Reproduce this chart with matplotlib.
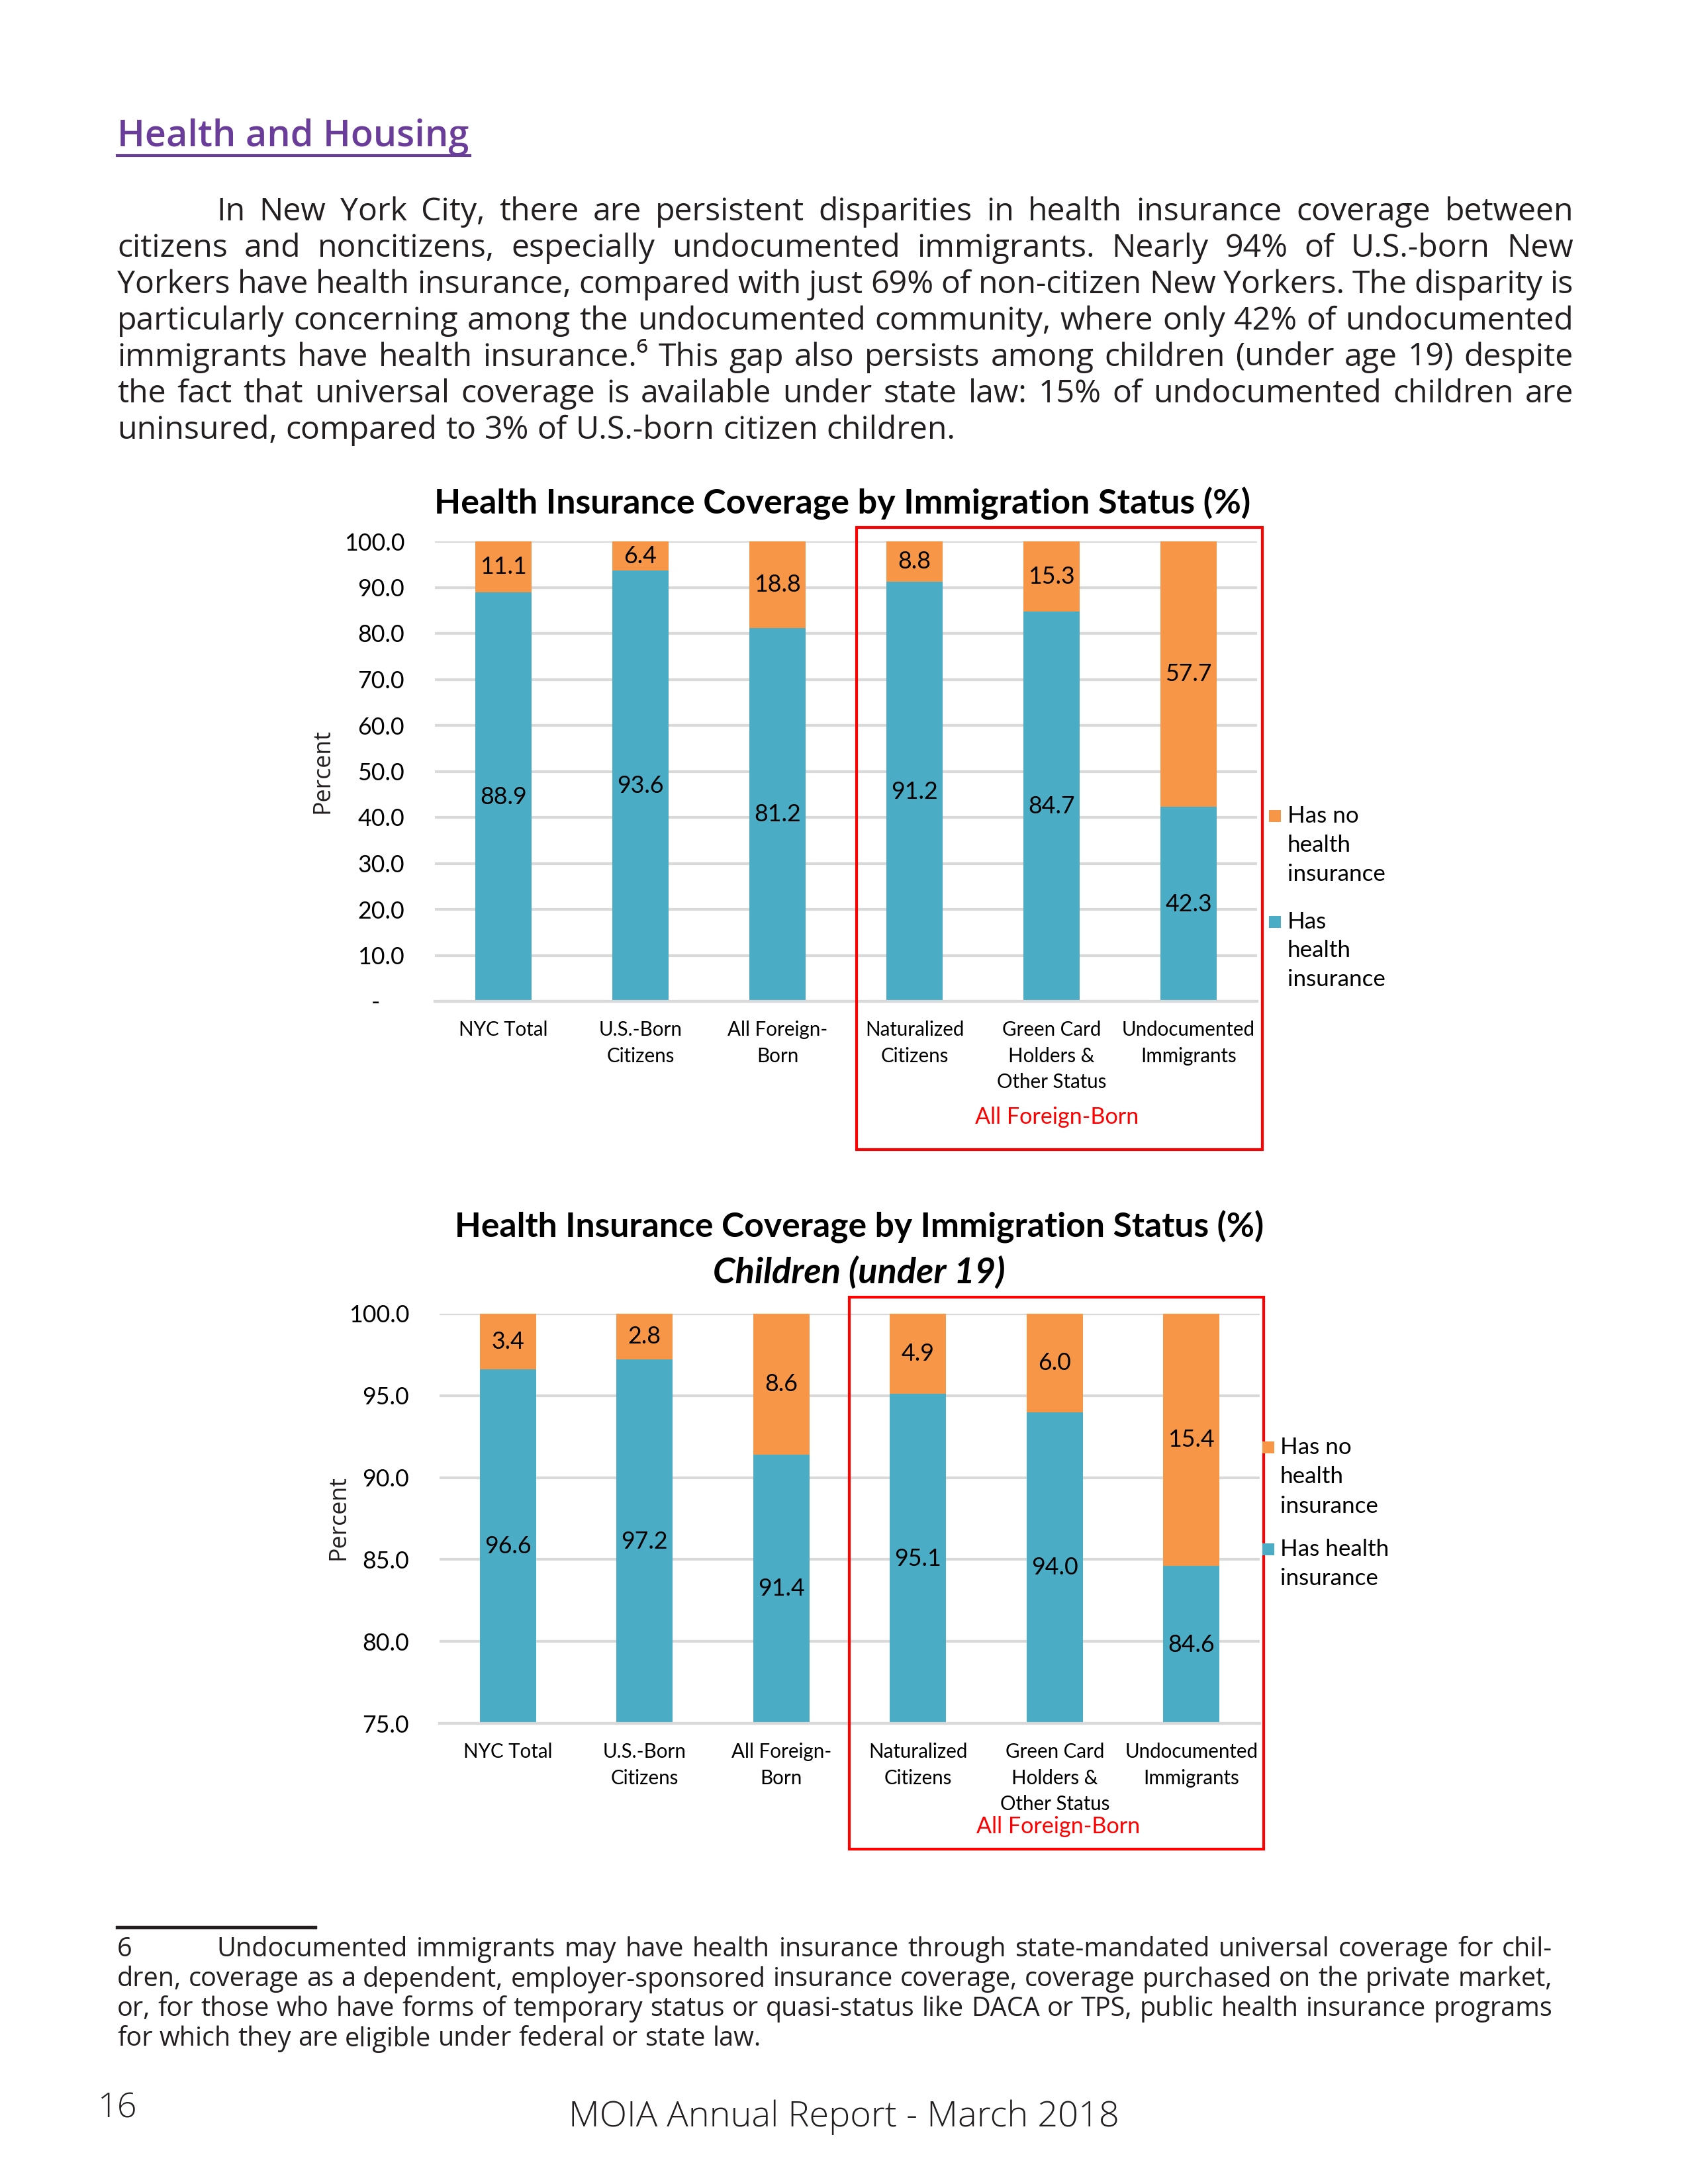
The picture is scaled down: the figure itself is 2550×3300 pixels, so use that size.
import matplotlib
matplotlib.use("Agg")
import matplotlib.pyplot as plt
from matplotlib.patches import Rectangle
from matplotlib.lines import Line2D
import numpy as np

W, H = 2550, 3300

# ---- data ----
categories = ["NYC Total", "U.S.-Born\nCitizens", "All Foreign-\nBorn",
              "Naturalized\nCitizens", "Green Card\nHolders &\nOther Status",
              "Undocumented\nImmigrants"]
adult_insured = [88.9, 93.6, 81.2, 91.2, 84.7, 42.3]
adult_uninsured = [11.1, 6.4, 18.8, 8.8, 15.3, 57.7]
child_insured = [96.6, 97.2, 91.4, 95.1, 94.0, 84.6]
child_uninsured = [3.4, 2.8, 8.6, 4.9, 6.0, 15.4]
adult_ticks = [0, 10, 20, 30, 40, 50, 60, 70, 80, 90, 100]
adult_ticklabels = ["-    ", "10.0", "20.0", "30.0", "40.0", "50.0", "60.0",
                    "70.0", "80.0", "90.0", "100.0"]
child_ticks = [75, 80, 85, 90, 95, 100]
child_ticklabels = ["75.0", "80.0", "85.0", "90.0", "95.0", "100.0"]

paragraph = [
    "In New York City, there are persistent disparities in health insurance coverage between",
    "citizens and noncitizens, especially undocumented immigrants. Nearly 94% of U.S.-born New",
    "Yorkers have health insurance, compared with just 69% of non-citizen New Yorkers. The disparity is",
    "particularly concerning among the undocumented community, where only 42% of undocumented",
    "immigrants have health insurance.\u2076 This gap also persists among children (under age 19) despite",
    "the fact that universal coverage is available under state law: 15% of undocumented children are",
    "uninsured, compared to 3% of U.S.-born citizen children.",
]
footnote = [
    "Undocumented immigrants may have health insurance through state-mandated universal coverage for chil-",
    "dren, coverage as a dependent, employer-sponsored insurance coverage, coverage purchased on the private market,",
    "or, for those who have forms of temporary status or quasi-status like DACA or TPS, public health insurance programs",
    "for which they are eligible under federal or state law.",
]

BLUE = "#4BACC6"
ORANGE = "#F79646"
GRID = "#D9D9D9"
INK = "#231F20"
BODY = ["Open Sans", "DejaVu Sans"]
CHART = ["Lato", "DejaVu Sans"]


def fx(x):
    return x / W


def fy(y):
    return 1 - y / H


fig = plt.figure(figsize=(8.5, 11), dpi=300)
renderer = fig.canvas.get_renderer()


def justify(line, x0, x1, y, size, last=False):
    words = line.split(" ")
    texts = [fig.text(0, fy(y), w, fontsize=size, family=BODY, color=INK,
                      va="center", ha="left") for w in words]
    widths = [t.get_window_extent(renderer).width for t in texts]
    space = 0.26 * size * 300 / 72
    if last or len(words) == 1:
        gap = space
    else:
        gap = (x1 - x0 - sum(widths)) / (len(words) - 1)
        gap = max(gap, 0.6 * space)
    x = x0
    for t, w in zip(texts, widths):
        t.set_x(fx(x))
        x += w + gap


# ---- heading and paragraph ----
fig.text(fx(177), fy(207), "Health and Housing", fontsize=13.4, family=BODY,
         color="#6A3D9A", weight="semibold", va="center", ha="left")
fig.add_artist(Line2D([fx(177), fx(710)], [fy(235), fy(235)], color="#6A3D9A",
                      lw=1.0, transform=fig.transFigure))

para_y = [320, 375, 430, 485, 540, 595, 650]
for i, (line, y) in enumerate(zip(paragraph, para_y)):
    x0 = 327 if i == 0 else 177
    justify(line, x0, 2377, y, 11.6, last=(i == len(paragraph) - 1))


def draw_chart(rect, insured, uninsured, ymin, ticks, ticklabels):
    ax = fig.add_axes(rect)
    x = np.arange(len(categories))
    ax.bar(x, insured, width=0.41, color=BLUE, zorder=2)
    ax.bar(x, uninsured, bottom=insured, width=0.41, color=ORANGE, zorder=2)
    ax.set_xlim(-0.5, len(categories) - 0.5)
    ax.set_ylim(ymin, 100)
    ax.set_yticks(ticks)
    ax.set_yticklabels(ticklabels, family=CHART, fontsize=8.6)
    ax.set_xticks(x)
    ax.set_xticklabels(categories, family=CHART, fontsize=7.1, linespacing=1.5,
                       va="top")
    ax.tick_params(axis="y", length=0, pad=11)
    ax.tick_params(axis="x", length=0, pad=7)
    ax.yaxis.grid(True, color=GRID, lw=1.0, zorder=0)
    ax.set_axisbelow(True)
    for s in ["top", "right", "left"]:
        ax.spines[s].set_visible(False)
    ax.spines["bottom"].set_color(GRID)
    ax.spines["bottom"].set_linewidth(1.0)
    for i in x:
        ax.text(i, (max(ymin, 0) + insured[i]) / 2, f"{insured[i]:.1f}",
                ha="center", va="center", family=CHART, fontsize=8.6, color="black", zorder=3)
        ax.text(i, insured[i] + uninsured[i] / 2, f"{uninsured[i]:.1f}",
                ha="center", va="center", family=CHART, fontsize=8.6, color="black", zorder=3)
    return ax


def legend_block(sq_x, text_x, lines_a, ys_a, lines_b, ys_b):
    sq = 18
    for color, lines, ys in [(ORANGE, lines_a, ys_a), (BLUE, lines_b, ys_b)]:
        fig.add_artist(Rectangle((fx(sq_x), fy(ys[0] + sq / 2)), sq / W, sq / H,
                                 transform=fig.transFigure, color=color, lw=0))
        for line, y in zip(lines, ys):
            fig.text(fx(text_x), fy(y), line, family=CHART, fontsize=8.4,
                     color="black", va="center", ha="left")


def red_box(x0, y0, x1, y1, label_x, label_y):
    fig.add_artist(Rectangle((fx(x0), fy(y1)), (x1 - x0) / W, (y1 - y0) / H,
                             transform=fig.transFigure, fill=False,
                             ec="#FF0000", lw=1.0))
    fig.text(fx(label_x), fy(label_y), "All Foreign-Born", family=CHART,
             fontsize=8.2, color="#FF0000", ha="center", va="center")


# ---- chart 1: all ages ----
fig.text(fx(1273), fy(761), "Health Insurance Coverage by Immigration Status (%)",
         family=CHART, fontsize=12.5, weight="bold", ha="center", va="center")
draw_chart([fx(657), fy(1513), (1899 - 657) / W, (1513 - 818) / H],
           adult_insured, adult_uninsured, 0, adult_ticks, adult_ticklabels)
fig.text(fx(487), fy(1165), "Percent", family=BODY, fontsize=8.6, rotation=90,
         ha="center", va="center", color=INK)
red_box(1294, 797, 1907, 1737, 1597, 1688)
legend_block(1917, 1945, ["Has no", "health", "insurance"], [1233, 1277, 1321],
             ["Has", "health", "insurance"], [1393, 1436, 1480])

# ---- chart 2: children ----
fig.text(fx(1298), fy(1854), "Health Insurance Coverage by Immigration Status (%)",
         family=CHART, fontsize=12.4, weight="bold", ha="center", va="center")
fig.text(fx(1298), fy(1922), "Children (under 19)", family=CHART, fontsize=13,
         weight="bold", style="italic", ha="center", va="center")
draw_chart([fx(664), fy(2604), (1903 - 664) / W, (2604 - 1985) / H],
           child_insured, child_uninsured, 75, child_ticks, child_ticklabels)
fig.text(fx(512), fy(2293), "Percent", family=BODY, fontsize=8.6, rotation=90,
         ha="center", va="center", color=INK)
red_box(1283, 1960, 1909, 2794, 1599, 2760)
legend_block(1907, 1934, ["Has no", "health", "insurance"], [2187, 2231, 2276],
             ["Has health", "insurance"], [2341, 2385])

# ---- footnote and footer ----
fig.add_artist(Line2D([fx(177), fx(476)], [fy(2912), fy(2912)], color=INK,
                      lw=1.3, transform=fig.transFigure))
fig.text(fx(177), fy(2946), "6", family=BODY, fontsize=9.5, color=INK,
         va="center", ha="left")
foot_y = [2946, 2991, 3036, 3081]
for i, (line, y) in enumerate(zip(footnote, foot_y)):
    x0 = 327 if i == 0 else 177
    justify(line, x0, 2345, y, 9.5, last=(i == len(footnote) - 1))

fig.text(fx(148), fy(3186), "16", family=BODY, fontsize=12.5, color=INK,
         weight="light", va="center", ha="left")
fig.text(fx(1275), fy(3199), "MOIA Annual Report - March 2018", family=BODY,
         fontsize=13, color=INK, weight="light", va="center", ha="center")

fig.savefig("out.png", dpi=300, facecolor="white")
